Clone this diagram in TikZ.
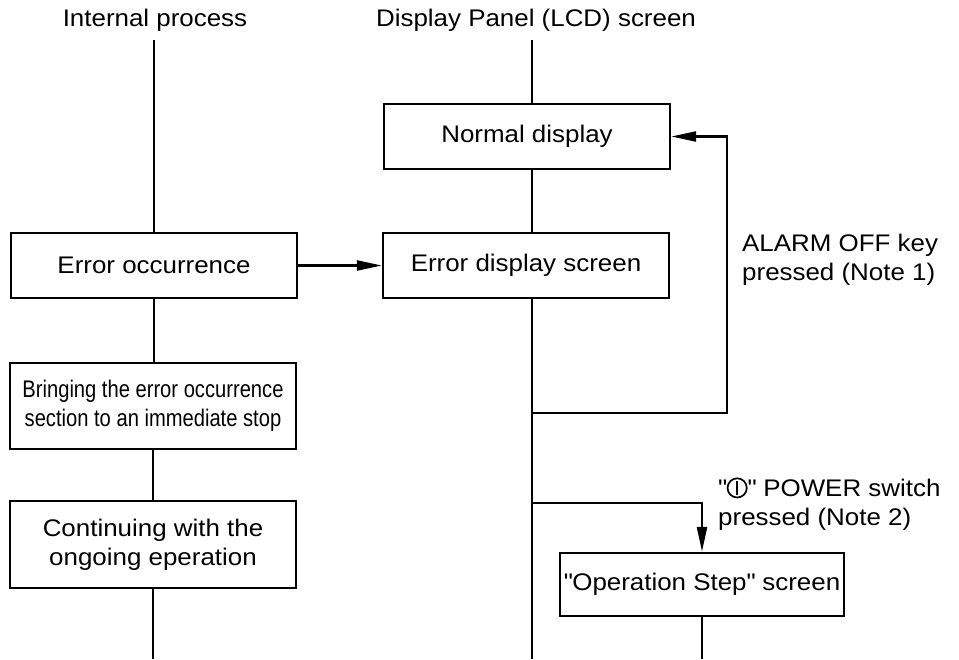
\documentclass[tikz,border=0pt]{standalone}
\usepackage{fontspec}
\setmainfont{Liberation Sans}[FakeStretch=1.08]
\newfontfamily\narrowfont{Liberation Sans}[FakeStretch=0.84]
\usetikzlibrary{arrows.meta}
\newcommand{\pwrsym}{\tikz[baseline=0pt,x=1em,y=1em]{\draw[line width=0.07em] (0,0.36) circle (0.4); \draw[line width=0.07em] (0,0.08)--(0,0.64);}}
\begin{document}
\begin{tikzpicture}[x=1pt,y=-1pt,line width=2.4pt,
  txt/.style={font=\fontsize{24}{29}\selectfont},
  box/.style={draw, txt, minimum width=286pt, minimum height=65pt, inner sep=0pt, align=center},
  lbl/.style={txt, inner sep=0pt, align=left, anchor=west},
  arr/.style={-{Stealth[length=25pt,width=10pt,inset=0pt]}}]
\useasboundingbox (0,0) rectangle (959,659);
\node[txt] (hL) at (155,20) {Internal process};
\node[txt] (hR) at (536,20) {Display Panel (LCD) screen};
\node[box] (eo) at (154,265.5) {Error occurrence};
\node[box, minimum height=86pt, font=\narrowfont\fontsize{24}{29}\selectfont] (br) at (153,406) {Bringing the error occurrence\\section to an immediate stop};
\node[box, minimum height=87pt] (co) at (153,544.5) {Continuing with the\\ongoing eperation};
\node[box] (nd) at (527,136.5) {Normal display};
\node[box] (ed) at (526,265.5) {Error display screen};
\node[box, minimum width=284pt, minimum height=63pt] (os) at (702,584.5) {\textquotedbl Operation Step\textquotedbl{} screen};
\node[lbl] (la) at (741,260) {ALARM OFF key\\pressed (Note 1)};
\node[lbl] (lp) at (718,504) {\textquotedbl\pwrsym\textquotedbl{} POWER switch\\pressed (Note 2)};
\coordinate (tL) at (154,40);
\coordinate (bL) at (154,659);
\coordinate (tR) at (532,40);
\coordinate (bR) at (532,659);
\coordinate (j1) at (532,413);
\coordinate (c1) at (727,413);
\coordinate (j2) at (532,503);
\coordinate (bO) at (702,659);
\draw (tL) -- (eo.north);
\draw (eo.south) -- (eo.south |- br.north);
\draw (br.south) -- (br.south |- co.north);
\draw (co.south) -- (co.south |- bL);
\draw (tR) -- (tR |- nd.north);
\draw (tR |- nd.south) -- (tR |- ed.north);
\draw (tR |- ed.south) -- (bR);
\draw[arr] (eo.east) -- (ed.west);
\draw[arr] (j1) -- (c1) |- (nd.east);
\draw[arr] (j2) -| (os.north);
\draw (os.south) -- (os.south |- bO);
\end{tikzpicture}
\end{document}
